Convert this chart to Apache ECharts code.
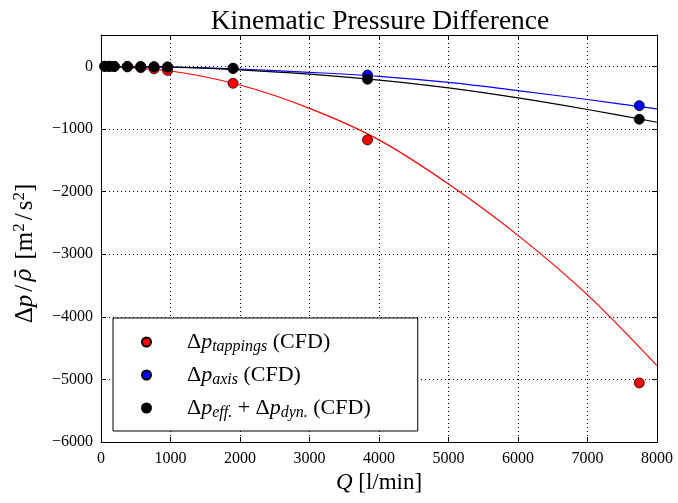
<!DOCTYPE html>
<html>
<head>
<meta charset="utf-8">
<script src="https://cdn.jsdelivr.net/npm/echarts@6/dist/echarts.min.js"></script>
<style>
  html, body { margin: 0; padding: 0; background: #fff; }
  #chart { width: 678px; height: 503px; }
</style>
</head>
<body>
<div id="chart"></div>
<script>
// CFD samples
const qCFD = [55, 120, 190, 380, 572, 763, 958, 1900, 3835, 7745];
const tappings = [0, -1, -3, -10, -22, -40, -65, -271, -1175, -5056];
const axisP = [0, 0, -1, -2, -4, -6, -10, -30, -139, -628];
const effDyn = [0, 0, -1, -2, -5, -8, -13, -35, -207, -845];

// fitted curves
const qFit = [0, 1000, 2000, 3000, 4000, 5000, 6000, 7000, 8000];
const fitTappings = [0, -75, -299, -672, -1175, -1880, -2700, -3650, -4780];
const fitAxis = [0, -11, -43, -96, -160, -258, -389, -530, -681];
const fitEffDyn = [0, -14, -56, -126, -220, -345, -505, -690, -893];

const xTicks = [0, 1000, 2000, 3000, 4000, 5000, 6000, 7000, 8000];
const yTicks = [0, -1000, -2000, -3000, -4000, -5000, -6000];

const names = ["tappings", "axis", "effdyn"];
const legendText = {
  tappings: "{g|}Δ{it|p}{sub|tappings} (CFD)",
  axis: "{g|}Δ{it|p}{sub|axis} (CFD)",
  effdyn: "{g|}Δ{it|p}{sub|eff.} + Δ{it|p}{sub|dyn.} (CFD)",
};

const font = "Liberation Serif";
const pairs = (xs, ys) => xs.map((x, i) => [x, ys[i]]);
const minus = (v) => String(v).replace("-", "\u2212");

const chart = echarts.init(document.getElementById("chart"));

const gridLine = { show: true, lineStyle: { color: "#000", type: [1, 3], width: 1 } };
const axisLine = { show: true, onZero: false, lineStyle: { color: "#000", width: 1 } };
const tick = { show: true, inside: true, length: 5, lineStyle: { color: "#000" } };

function scatter(name, ys, color) {
  return {
    name: name,
    type: "scatter",
    data: pairs(qCFD, ys),
    symbol: "circle",
    symbolSize: 10,
    z: 5,
    itemStyle: { color: color, opacity: 1, borderColor: "#000", borderWidth: 0.8 },
  };
}
function fit(ys, color) {
  return {
    name: "fit",
    type: "line",
    data: pairs(qFit, ys),
    smooth: 0.3,
    showSymbol: false,
    z: 3,
    lineStyle: { color: color, width: 1.2 },
  };
}

const option = {
  animation: false,
  backgroundColor: "#fff",
  textStyle: { fontFamily: font, color: "#000" },
  title: {
    text: "Kinematic Pressure Difference",
    left: 375,
    top: 3,
    textAlign: "center",
    textStyle: { fontFamily: font, fontSize: 27.5, fontWeight: "normal", color: "#000" },
  },
  grid: { left: 101, right: 21, top: 35, bottom: 61 },
  legend: {
    data: names,
    orient: "vertical",
    left: 113,
    top: 318,
    padding: [11, 47, 10, 28],
    itemGap: 7,
    itemWidth: 9,
    itemHeight: 9,
    borderColor: "#000",
    borderWidth: 1,
    borderRadius: 0,
    backgroundColor: "#fff",
    formatter: (n) => legendText[n],
    textStyle: {
      fontFamily: font,
      fontSize: 22,
      lineHeight: 26,
      color: "#000",
      rich: {
        g: { width: 31 },
        it: { fontFamily: font, fontSize: 22, lineHeight: 26, fontStyle: "italic" },
        sub: { fontFamily: font, fontSize: 16, lineHeight: 16, fontStyle: "italic", padding: [10, 0, 0, 0] },
      },
    },
  },
  xAxis: [
    {
      type: "value", min: 0, max: 8000, interval: 1000,
      name: "{it|Q} [l/min]", nameLocation: "middle", nameGap: 29,
      nameTextStyle: {
        fontFamily: font, fontSize: 23, color: "#000",
        rich: { it: { fontFamily: font, fontSize: 23, fontStyle: "italic" } },
      },
      axisLine: axisLine, axisTick: tick, splitLine: gridLine,
      axisLabel: {
        fontFamily: font, fontSize: 16, color: "#000", margin: 9,
        formatter: (v) => (xTicks.includes(v) ? String(v) : ""),
      },
    },
    {
      type: "value", min: 0, max: 8000, interval: 1000, position: "top",
      axisLine: axisLine, axisTick: tick, splitLine: { show: false }, axisLabel: { show: false },
    },
  ],
  yAxis: [
    {
      type: "value", min: -6000, max: 500, interval: 1000,
      name: "Δ{it|p}{s|}/{s|}{rho|ρ̄} {s|}[m{sup|2}{s|}/{s|}s{sup|2}]",
      nameLocation: "middle", nameRotate: 90, nameGap: 61,
      nameTextStyle: {
        fontFamily: font, fontSize: 25, color: "#000", padding: [0, 30, 0, 0],
        rich: {
          s: { width: 3 },
          it: { fontFamily: font, fontSize: 25, fontStyle: "italic" },
          rho: { fontFamily: "DejaVu Serif", fontSize: 22, fontStyle: "italic" },
          sup: { fontFamily: font, fontSize: 17, padding: [0, 0, 12, 0] },
        },
      },
      axisLine: axisLine, axisTick: tick, splitLine: gridLine,
      axisLabel: {
        fontFamily: font, fontSize: 16, color: "#000", margin: 8,
        formatter: (v) => (yTicks.includes(v) ? minus(v) : ""),
      },
    },
    {
      type: "value", min: -6000, max: 500, interval: 1000, position: "right",
      axisLine: axisLine, axisTick: tick, splitLine: { show: false }, axisLabel: { show: false },
    },
  ],
  series: [
    fit(fitTappings, "#ff0000"),
    fit(fitAxis, "#0000ff"),
    fit(fitEffDyn, "#000000"),
    scatter("tappings", tappings, "#ff0000"),
    scatter("axis", axisP, "#0000ff"),
    scatter("effdyn", effDyn, "#000000"),
  ],
};

chart.setOption(option);
</script>
</body>
</html>
